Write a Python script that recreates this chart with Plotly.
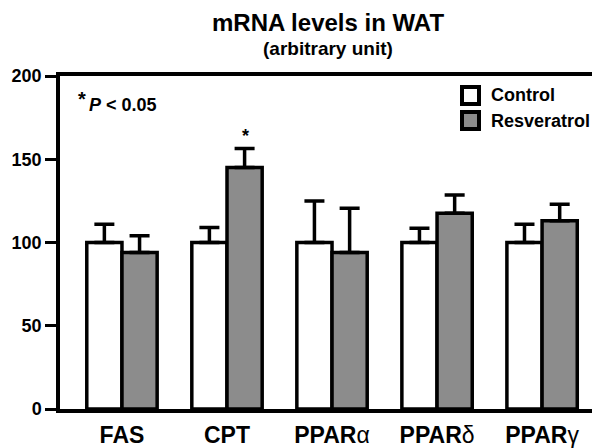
import plotly.graph_objects as go

categories = ["FAS", "CPT", "PPARα", "PPARδ", "PPARγ"]
category_labels = ["<b>FAS</b>", "<b>CPT</b>", "<b>PPAR</b>α", "<b>PPAR</b>δ", "<b>PPAR</b>γ"]
control = [100, 100, 100, 100, 100]
control_err = [11, 9, 25, 8.5, 11]
resveratrol = [94, 145, 94, 117.5, 113]
resveratrol_err = [10, 11.5, 26.5, 11, 10]
y_ticks = [0, 50, 100, 150, 200]
series_names = ["Control", "Resveratrol"]
series_colors = ["white", "#8c8c8c"]

FONT = "Liberation Sans, Arial, Helvetica, sans-serif"
L, R, T, B = 52, 5, 68, 47
W, H = 600, 448
PW, PH = W - L - R, H - T - B


def px_x(px):
    return (px - L) / PW


def px_y(py):
    return (H - B - py) / PH


fig = go.Figure()
for name, vals, errs, col in [(series_names[0], control, control_err, series_colors[0]),
                              (series_names[1], resveratrol, resveratrol_err, series_colors[1])]:
    fig.add_trace(go.Bar(
        name=name, x=categories, y=vals,
        marker=dict(color=col, line=dict(color="black", width=3.5)),
        error_y=dict(type="data", symmetric=False, array=errs,
                     arrayminus=[0] * len(errs), color="black", thickness=3.5, width=10),
    ))

annotations = [
    dict(text="<b>mRNA levels in WAT</b>", x=px_x(W / 2 + 20), y=px_y(15),
         xref="paper", yref="paper", showarrow=False, yanchor="middle",
         font=dict(size=24, family=FONT)),
    dict(text="<b>(arbitrary unit)</b>", x=px_x(W / 2 + 20), y=px_y(41),
         xref="paper", yref="paper", showarrow=False, yanchor="middle",
         font=dict(size=19, family=FONT)),
    dict(text="<b>*</b>", x=px_x(68), y=px_y(91),
         xref="paper", yref="paper", xanchor="left", yanchor="middle",
         showarrow=False, font=dict(size=20, family=FONT)),
    dict(text="<b><i>P</i> &lt; 0.05</b>", x=px_x(79), y=px_y(97),
         xref="paper", yref="paper", xanchor="left", yanchor="middle",
         showarrow=False, font=dict(size=18, family=FONT)),
    dict(text="<b>*</b>", x="CPT", y=164, xref="x", yref="y", xshift=18,
         yanchor="middle", showarrow=False, font=dict(size=18, family=FONT)),
]
shapes = []
for i, (name, col) in enumerate(zip(series_names, series_colors)):
    top = 79 + 25 * i
    shapes.append(dict(type="rect", xref="paper", yref="paper",
                       x0=px_x(454), x1=px_x(471), y0=px_y(top + 17), y1=px_y(top),
                       fillcolor=col, line=dict(color="black", width=4)))
    annotations.append(dict(text="<b>%s</b>" % name, x=px_x(481), y=px_y(top + 8.5),
                            xref="paper", yref="paper", xanchor="left", yanchor="middle",
                            showarrow=False, font=dict(size=18, family=FONT)))

fig.update_layout(
    width=W, height=H,
    margin=dict(l=L, r=R, t=T, b=B, autoexpand=False),
    paper_bgcolor="white", plot_bgcolor="white",
    barmode="group", bargap=0.33, bargroupgap=0,
    font=dict(family=FONT, color="black", size=18),
    showlegend=False,
    xaxis=dict(range=[-0.59, 4.58], showline=True, linecolor="black", linewidth=3.5,
               mirror=True, ticks="outside", ticklen=3, tickcolor="rgba(0,0,0,0)",
               tickvals=categories, ticktext=category_labels,
               tickfont=dict(family=FONT, size=23, color="black"),
               showgrid=False, zeroline=False, automargin=False),
    yaxis=dict(range=[0, 200], tickvals=y_ticks, showline=True, linecolor="black",
               linewidth=3.5, mirror=True, ticks="outside", ticklen=11, tickwidth=3,
               tickcolor="black",
               tickfont=dict(family=FONT, size=18, color="black", weight="bold"),
               showgrid=False, zeroline=False, automargin=False),
    annotations=annotations,
    shapes=shapes,
)

fig.write_html("out.html")
